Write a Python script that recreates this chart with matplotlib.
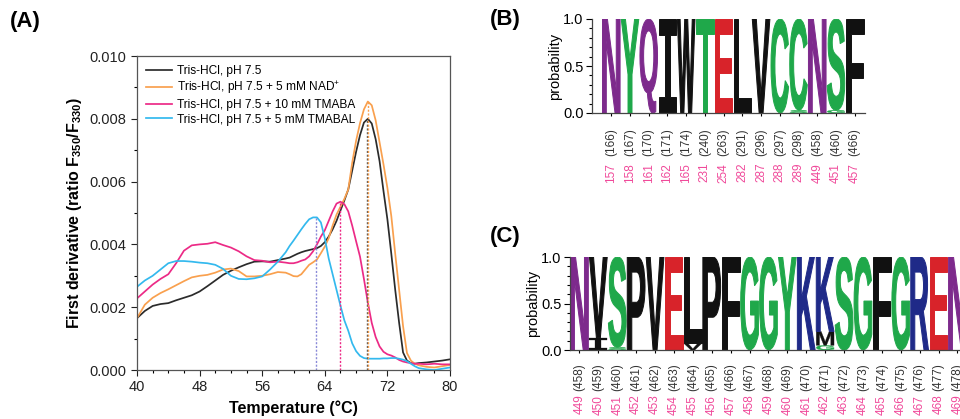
import matplotlib
matplotlib.use("Agg")
import matplotlib.pyplot as plt
from matplotlib.textpath import TextPath
from matplotlib.patches import PathPatch
from matplotlib.font_manager import FontProperties
from matplotlib.transforms import Affine2D
from matplotlib.ticker import MultipleLocator, FormatStrFormatter

plt.rcParams['font.family'] = ['Liberation Sans', 'DejaVu Sans']
plt.rcParams['mathtext.fontset'] = 'custom'
plt.rcParams['mathtext.rm'] = 'Liberation Sans'
plt.rcParams['mathtext.bf'] = 'Liberation Sans:bold'

# ---------------- Panel A data ----------------
temp = [40, 41, 42, 43, 44, 45, 46, 47, 48, 49, 50, 51, 52, 53, 54, 55, 56, 57, 58,
        59, 59.5, 60, 60.5, 61, 61.5, 62, 62.5, 63, 63.5, 64, 64.5, 65, 65.5, 66, 66.5,
        67, 67.5, 68, 68.5, 69, 69.5, 70, 70.5, 71, 71.5, 72, 72.5, 73, 73.5, 74, 74.5,
        75, 75.5, 76, 77, 78, 79, 80]
tris = [0.00165, 0.00188, 0.00204, 0.00210, 0.00213, 0.00222, 0.00230, 0.00238, 0.00250, 0.00267,
        0.00285, 0.00303, 0.00316, 0.00327, 0.00337, 0.00345, 0.00346, 0.00345, 0.00350,
        0.00355, 0.00358, 0.00364, 0.00370, 0.00375, 0.00379, 0.00382, 0.00385, 0.00388, 0.00395,
        0.00407, 0.00425, 0.00448, 0.00475, 0.00508, 0.00540,
        0.00575, 0.00635, 0.00695, 0.00748, 0.00788, 0.00800, 0.00785, 0.00735, 0.00665, 0.00570,
        0.00480, 0.00370, 0.00255, 0.00150, 0.00056, 0.00030,
        0.00022, 0.00020, 0.00022, 0.00024, 0.00027, 0.00030, 0.00034]
nad = [0.00165, 0.00208, 0.00230, 0.00245, 0.00257, 0.00270, 0.00283, 0.00295, 0.00300, 0.00303,
       0.00310, 0.00320, 0.00323, 0.00315, 0.00298, 0.00298, 0.00300, 0.00305, 0.00312,
       0.00310, 0.00305, 0.00299, 0.00298, 0.00305, 0.00320, 0.00335, 0.00343, 0.00352, 0.00372,
       0.00393, 0.00420, 0.00460, 0.00495, 0.00520, 0.00545,
       0.00575, 0.00660, 0.00730, 0.00786, 0.00830, 0.00855, 0.00843, 0.00795, 0.00725, 0.00655,
       0.00580, 0.00490, 0.00370, 0.00255, 0.00140, 0.00054,
       0.00030, 0.00020, 0.00015, 0.00010, 0.00008, 0.00012, 0.00016]
tmaba = [0.00228, 0.00250, 0.00272, 0.00290, 0.00305, 0.00340, 0.00380, 0.00397, 0.00400, 0.00402,
         0.00407, 0.00398, 0.00390, 0.00378, 0.00362, 0.00350, 0.00348, 0.00343, 0.00345,
         0.00342, 0.00340, 0.00340, 0.00343, 0.00348, 0.00352, 0.00362, 0.00378, 0.00400, 0.00425,
         0.00445, 0.00475, 0.00505, 0.00530, 0.00536, 0.00528,
         0.00505, 0.00460, 0.00410, 0.00361, 0.00290, 0.00215, 0.00150, 0.00105, 0.00075, 0.00058,
         0.00050, 0.00046, 0.00040, 0.00032, 0.00027, 0.00024,
         0.00022, 0.00020, 0.00020, 0.00018, 0.00020, 0.00018, 0.00018]
tmabal = [0.00265, 0.00285, 0.00300, 0.00320, 0.00340, 0.00347, 0.00347, 0.00345, 0.00342, 0.00340,
          0.00335, 0.00322, 0.00300, 0.00290, 0.00289, 0.00292, 0.00298, 0.00320, 0.00345,
          0.00375, 0.00395, 0.00412, 0.00430, 0.00448, 0.00465, 0.00480, 0.00486, 0.00486, 0.00470,
          0.00420, 0.00355, 0.00305, 0.00255, 0.00205, 0.00158,
          0.00125, 0.00085, 0.00060, 0.00045, 0.00038, 0.00036, 0.00036, 0.00036, 0.00036, 0.00037,
          0.00037, 0.00038, 0.00038, 0.00036, 0.00033, 0.00028,
          0.00020, 0.00012, 0.00006, 0.00002, 0.00000, 0.00004, 0.00008]
series_labels = ['Tris-HCl, pH 7.5', 'Tris-HCl, pH 7.5 + 5 mM NAD$^{+}$',
                 'Tris-HCl, pH 7.5 + 10 mM TMABA', 'Tris-HCl, pH 7.5 + 5 mM TMABAL']
series_colors = ['#2b2b2b', '#f9a04e', '#ec2a86', '#33b9ee']
tm_values = [69.4, 69.55, 65.95, 62.85]
tm_peaks = [0.00800, 0.00855, 0.00536, 0.00486]
tm_colors = ['#555555', '#f9a04e', '#ec2a86', '#8a8ad8']

# ---------------- Panel B data ----------------
logo_b_cols = [[('N', 1.0)], [('Y', 1.0)], [('Q', 1.0)], [('I', 1.0)], [('W', 1.0)],
               [('T', 1.0)], [('E', 1.0)], [('L', 1.0)], [('V', 1.0)], [('C', 1.0)],
               [('S', 0.03), ('C', 0.97)], [('N', 1.0)], [('G', 0.03), ('S', 0.97)], [('F', 1.0)]]
logo_b_pos = ['157', '158', '161', '162', '165', '231', '254', '282', '287', '288', '289', '449', '451', '457']
logo_b_ref = ['(166)', '(167)', '(170)', '(171)', '(174)', '(240)', '(263)', '(291)', '(296)',
              '(297)', '(298)', '(458)', '(460)', '(466)']

# ---------------- Panel C data ----------------
logo_c_cols = [[('N', 1.0)], [('I', 0.13), ('V', 0.87)], [('S', 0.03), ('S', 0.97)], [('P', 1.0)],
               [('V', 1.0)], [('E', 1.0)], [('V', 0.07), ('L', 0.93)], [('P', 1.0)], [('F', 1.0)],
               [('G', 1.0)], [('G', 1.0)], [('Y', 1.0)], [('K', 1.0)],
               [('G', 0.05), ('M', 0.15), ('K', 0.80)], [('S', 1.0)], [('G', 1.0)], [('F', 1.0)],
               [('G', 1.0)], [('R', 1.0)], [('E', 1.0)], [('N', 1.0)]]
logo_c_pos = ['449', '450', '451', '452', '453', '454', '455', '456', '457', '458', '459', '460',
              '461', '462', '463', '464', '465', '466', '467', '468', '469']
logo_c_ref = ['(458)', '(459)', '(460)', '(461)', '(462)', '(463)', '(464)', '(465)', '(466)',
              '(467)', '(468)', '(469)', '(470)', '(471)', '(472)', '(473)', '(474)', '(475)',
              '(476)', '(477)', '(478)']

letter_colors = {'N': '#7d2a8c', 'Q': '#7d2a8c', 'Y': '#1fa84a', 'T': '#1fa84a', 'C': '#1fa84a',
                 'S': '#1fa84a', 'G': '#1fa84a', 'E': '#d8232a', 'K': '#1f2a88', 'R': '#1f2a88'}

W, H = 960, 419
fig = plt.figure(figsize=(W / 100, H / 100), dpi=100)


def fbox(l, t, r, b):
    return [l / W, 1 - b / H, (r - l) / W, (b - t) / H]


# ---------------- Panel A ----------------
axA = fig.add_axes(fbox(137, 56, 450, 370))
for y, lab, c in zip([tris, nad, tmaba, tmabal], series_labels, series_colors):
    axA.plot(temp, y, color=c, lw=1.25, label=lab, solid_joinstyle='round')
for t, p, c in zip(tm_values, tm_peaks, tm_colors):
    axA.plot([t, t], [0, p], color=c, lw=1.0, ls=(0, (1.5, 1.2)))
axA.set_xlim(40, 80)
axA.set_ylim(0, 0.010)
axA.xaxis.set_major_locator(MultipleLocator(8))
axA.xaxis.set_minor_locator(MultipleLocator(2))
axA.yaxis.set_major_locator(MultipleLocator(0.002))
axA.yaxis.set_minor_locator(MultipleLocator(0.001))
axA.yaxis.set_major_formatter(FormatStrFormatter('%.3f'))
axA.tick_params(which='major', direction='out', length=4, width=0.8, labelsize=10.5, colors='#222222')
axA.tick_params(which='minor', direction='out', length=2.5, width=0.8)
for s in axA.spines.values():
    s.set_color('#555555')
    s.set_linewidth(0.9)
axA.set_xlabel('Temperature (°C)', fontsize=11.5, fontweight='bold', labelpad=4)
axA.set_ylabel(r'First derivative (ratio F$_{\mathbf{350}}$/F$_{\mathbf{330}}$)',
               fontsize=11.5, fontweight='bold', labelpad=4)
axA.legend(loc='upper left', frameon=False, fontsize=8.6, handlelength=2.2, handletextpad=0.4,
           labelspacing=0.22, borderaxespad=0.35, bbox_to_anchor=(0.0, 1.0))
fig.text(10 / W, 1 - 22 / H, '(A)', fontsize=16, fontweight='bold', va='center', ha='left')

# ---------------- Logo helper ----------------
fp_sans = FontProperties(family='Liberation Sans', weight='bold')
fp_mono = FontProperties(family='DejaVu Sans Mono', weight='bold')


def draw_letter(ax, ch, x0, y0, w, h, color):
    fp = fp_mono if ch == 'I' else fp_sans
    tp = TextPath((0, 0), ch, size=1, prop=fp)
    ext = tp.get_extents()
    tr = (Affine2D().translate(-ext.x0, -ext.y0)
          .scale(w / ext.width, h / ext.height).translate(x0, y0))
    path = tr.transform_path(tp)
    ax.add_patch(PathPatch(path, facecolor=color, edgecolor=color,
                           lw=0.7 if h > 0.3 else 0.2, joinstyle='miter'))


def draw_logo(ax, cols, pos, ref, black_top, pink_top, fs):
    for i, col in enumerate(cols):
        y = 0.0
        for ch, p in col:
            draw_letter(ax, ch, i - 0.47, y, 0.94, p, letter_colors.get(ch, '#111111'))
            y += p
    ax.set_ylim(0, 1.0)
    ax.set_xticks(range(len(cols)))
    ax.set_xticklabels([])
    ax.yaxis.set_major_locator(MultipleLocator(0.5))
    ax.yaxis.set_minor_locator(MultipleLocator(0.1))
    ax.yaxis.set_major_formatter(FormatStrFormatter('%.1f'))
    ax.tick_params(axis='y', which='major', direction='out', length=4, width=0.8, labelsize=10.5, pad=2)
    ax.tick_params(axis='y', which='minor', direction='out', length=2.5, width=0.8)
    ax.tick_params(axis='x', which='major', direction='out', length=2.5, width=0.8)
    for s in ['top', 'right']:
        ax.spines[s].set_visible(False)
    for s in ['left', 'bottom']:
        ax.spines[s].set_color('#444444')
        ax.spines[s].set_linewidth(0.9)
    ax.set_ylabel('probability', fontsize=10.5, labelpad=1)
    trans = ax.get_xaxis_transform()
    for i, (a, b) in enumerate(zip(pos, ref)):
        ax.text(i, black_top, b, rotation=90, ha='center', va='top', fontsize=fs,
                color='#333333', transform=trans, clip_on=False)
        ax.text(i, pink_top, a, rotation=90, ha='center', va='top', fontsize=fs,
                color='#f0499a', transform=trans, clip_on=False)


# ---------------- Panel B ----------------
axB = fig.add_axes(fbox(592, 19, 865, 113))
axB.set_xlim(-1.03, 13.55)
draw_logo(axB, logo_b_cols, logo_b_pos, logo_b_ref, -0.16, -0.53, 8.5)
fig.text(490 / W, 1 - 20 / H, '(B)', fontsize=16, fontweight='bold', va='center', ha='left')

# ---------------- Panel C ----------------
axC = fig.add_axes(fbox(570, 257, 570 + 18.9 * 22, 350))
axC.set_xlim(-0.5, 21.5)
draw_logo(axC, logo_c_cols, logo_c_pos, logo_c_ref, -0.14, -0.48, 8.5)
fig.text(490 / W, 1 - 236 / H, '(C)', fontsize=16, fontweight='bold', va='center', ha='left')

fig.savefig('out.png', dpi=100)
